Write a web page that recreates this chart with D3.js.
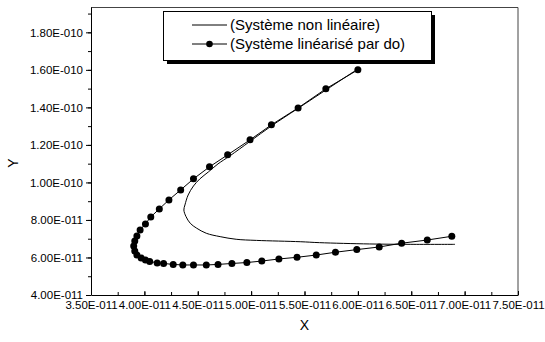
<!DOCTYPE html>
<html>
<head>
<meta charset="utf-8">
<script src="https://cdn.jsdelivr.net/npm/d3@7"></script>
<style>
  body { margin: 0; background: #fff; }
  text { font-family: "Liberation Sans", Arial, sans-serif; fill: #000; }
</style>
</head>
<body>
<div id="chart"></div>
<script>
// non linear system (continuous curve)
var nlX = [6.00e-11, 5.44e-11, 5.19e-11, 4.99e-11, 4.80e-11, 4.69e-11, 4.60e-11, 4.52e-11,
  4.46e-11, 4.41e-11, 4.38e-11, 4.37e-11, 4.39e-11, 4.43e-11, 4.49e-11, 4.58e-11, 4.71e-11,
  4.86e-11, 5.05e-11, 5.46e-11, 5.64e-11, 6.11e-11, 6.49e-11, 6.91e-11];
var nlY = [16.05e-11, 13.95e-11, 13.01e-11, 12.19e-11, 11.41e-11, 10.99e-11, 10.56e-11, 10.19e-11,
  9.81e-11, 9.33e-11, 8.80e-11, 8.53e-11, 8.18e-11, 7.82e-11, 7.56e-11, 7.29e-11, 7.11e-11,
  6.97e-11, 6.91e-11, 6.84e-11, 6.79e-11, 6.72e-11, 6.70e-11, 6.70e-11];

// linearised system (points)
var linX = [6.00e-11, 5.70e-11, 5.44e-11, 5.19e-11, 4.99e-11, 4.78e-11, 4.61e-11, 4.46e-11,
  4.34e-11, 4.23e-11, 4.14e-11, 4.06e-11, 4.01e-11, 3.96e-11, 3.93e-11, 3.91e-11, 3.90e-11,
  3.91e-11, 3.93e-11, 3.97e-11, 4.01e-11, 4.05e-11, 4.12e-11, 4.18e-11, 4.27e-11, 4.36e-11,
  4.46e-11, 4.58e-11, 4.69e-11, 4.82e-11, 4.96e-11, 5.10e-11, 5.26e-11, 5.43e-11, 5.61e-11,
  5.79e-11, 5.99e-11, 6.20e-11, 6.41e-11, 6.65e-11, 6.88e-11];
var linY = [16.00e-11, 14.99e-11, 13.97e-11, 13.07e-11, 12.27e-11, 11.47e-11, 10.83e-11, 10.19e-11,
  9.60e-11, 9.07e-11, 8.59e-11, 8.16e-11, 7.79e-11, 7.47e-11, 7.15e-11, 6.88e-11, 6.61e-11,
  6.35e-11, 6.13e-11, 5.97e-11, 5.87e-11, 5.79e-11, 5.71e-11, 5.68e-11, 5.63e-11, 5.60e-11,
  5.60e-11, 5.60e-11, 5.63e-11, 5.68e-11, 5.73e-11, 5.81e-11, 5.92e-11, 6.01e-11, 6.13e-11,
  6.28e-11, 6.42e-11, 6.56e-11, 6.76e-11, 6.93e-11, 7.13e-11];

var xTicks = d3.range(0, 9).map(i => (35 + 5 * i) * 1e-12);
var xMinor = d3.range(0, 17).map(i => (350 + 25 * i) * 1e-13);
var yTicks = d3.range(0, 8).map(i => (4 + 2 * i) * 1e-11);
var yMinor = d3.range(0, 16).map(i => (4 + i) * 1e-11);

var legendLabels = ["(Système non linéaire)", "(Système linéarisé par do)"];

var svgWidth = 545;
var svgHeight = 342;
var margin = { top: 7, right: 27, bottom: 47, left: 91 };
var width = svgWidth - margin.left - margin.right;
var height = svgHeight - margin.top - margin.bottom;

var svg = d3.select("#chart")
  .append("svg")
  .attr("width", svgWidth)
  .attr("height", svgHeight);

var chartGroup = svg.append("g")
  .attr("transform", `translate(${margin.left}, ${margin.top})`);

var xScale = d3.scaleLinear().domain([3.5e-11, 7.5e-11]).range([0, width]);
var yScale = d3.scaleLinear().domain([4e-11, 1.935e-10]).range([height, 0]);

// Origin style labels: 1.80E-010
function fmt(v) {
  var s = v.toExponential(2).split("e");
  var e = +s[1];
  var sign = e < 0 ? "-" : "+";
  return s[0] + "E" + sign + String(Math.abs(e)).padStart(3, "0");
}

// frame (top and right)
chartGroup.append("path")
  .attr("d", `M0,0.5H${width}V${height}`)
  .attr("fill", "none")
  .attr("stroke", "#444")
  .attr("stroke-width", 1);

// x axis, ticks pointing inward
var xAxis = chartGroup.append("g")
  .attr("transform", `translate(0, ${height})`);
xAxis.call(d3.axisBottom(xScale).tickValues(xMinor).tickSize(-3).tickFormat(""));
xAxis.call(g => g.select(".domain").remove());
var xMajor = chartGroup.append("g")
  .attr("transform", `translate(0, ${height})`)
  .call(d3.axisBottom(xScale).tickValues(xTicks).tickSize(-4).tickSizeOuter(0).tickFormat(fmt));
xMajor.selectAll("text")
  .attr("y", 6)
  .attr("dy", "0.71em")
  .style("font-size", "11.5px")
  .style("font-family", "'Liberation Sans', Arial, sans-serif");

// y axis, ticks pointing outward
var yAxis = chartGroup.append("g");
yAxis.call(d3.axisLeft(yScale).tickValues(yMinor).tickSize(3).tickFormat(""));
yAxis.call(g => g.select(".domain").remove());
var yMajor = chartGroup.append("g")
  .call(d3.axisLeft(yScale).tickValues(yTicks).tickSize(5).tickSizeOuter(0).tickFormat(fmt));
yMajor.selectAll("text")
  .attr("x", -8)
  .style("font-size", "11.5px")
  .style("font-family", "'Liberation Sans', Arial, sans-serif");

chartGroup.selectAll(".domain").attr("stroke", "#000");
chartGroup.selectAll(".tick line").attr("stroke", "#000");

// non linear curve
var nlData = nlX.map((d, i) => [d, nlY[i]]);
chartGroup.append("path")
  .datum(nlData)
  .attr("fill", "none")
  .attr("stroke", "#000")
  .attr("stroke-width", 1)
  .attr("d", d3.line()
    .x(d => xScale(d[0]))
    .y(d => yScale(d[1]))
    .curve(d3.curveCatmullRom));

// linearised series, line + dots
var linData = linX.map((d, i) => [d, linY[i]]);
chartGroup.append("path")
  .datum(linData)
  .attr("fill", "none")
  .attr("stroke", "#000")
  .attr("stroke-width", 1)
  .attr("d", d3.line()
    .x(d => xScale(d[0]))
    .y(d => yScale(d[1])));

chartGroup.selectAll("circle.pt")
  .data(linData)
  .enter()
  .append("circle")
  .attr("class", "pt")
  .attr("cx", d => xScale(d[0]))
  .attr("cy", d => yScale(d[1]))
  .attr("r", 3.5)
  .attr("fill", "#000");

// axis titles
svg.append("text")
  .attr("x", margin.left + width / 2)
  .attr("y", 330)
  .attr("text-anchor", "middle")
  .style("font-size", "14px")
  .text("X");

svg.append("text")
  .attr("transform", "translate(18, 163) rotate(-90)")
  .attr("text-anchor", "middle")
  .style("font-size", "14px")
  .text("Y");

// legend with shadow
var legend = svg.append("g");
legend.append("rect")
  .attr("x", 167).attr("y", 15)
  .attr("width", 268).attr("height", 49)
  .attr("fill", "#000");
legend.append("rect")
  .attr("x", 163.5).attr("y", 11.5)
  .attr("width", 268).attr("height", 49)
  .attr("fill", "#fff")
  .attr("stroke", "#000")
  .attr("stroke-width", 1);

legendLabels.forEach(function(lbl, i) {
  var ly = 25 + i * 19;
  legend.append("line")
    .attr("x1", 192).attr("x2", 227)
    .attr("y1", ly).attr("y2", ly)
    .attr("stroke", "#000");
  if (i === 1) {
    legend.append("circle")
      .attr("cx", 209.5).attr("cy", ly)
      .attr("r", 3.3)
      .attr("fill", "#000");
  }
  legend.append("text")
    .attr("x", 230)
    .attr("y", ly + 5)
    .style("font-size", "15px")
    .text(lbl);
});
</script>
</body>
</html>
